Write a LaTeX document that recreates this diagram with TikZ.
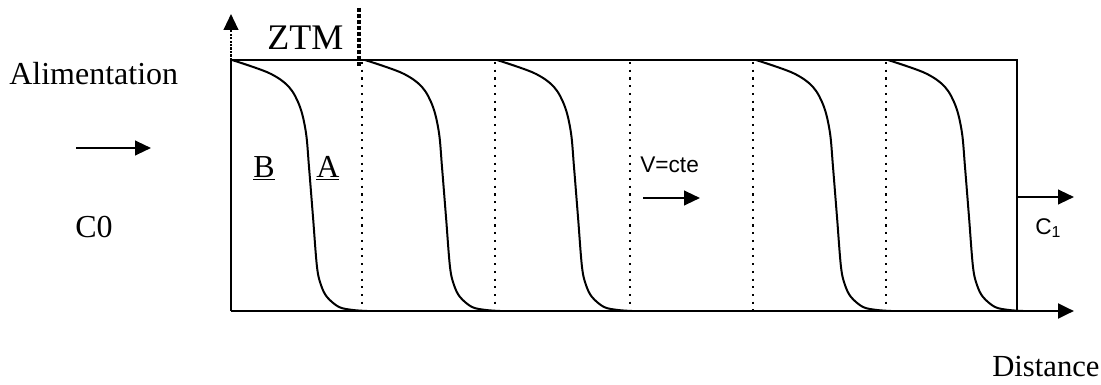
\documentclass[tikz,border=0pt]{standalone}
\usepackage{fontspec}
\setmainfont{Liberation Serif}
\newfontfamily\arial{Liberation Sans}
\usetikzlibrary{arrows.meta}
\begin{document}
\begin{tikzpicture}[x=0.75pt,y=-0.75pt,
  arr/.style={line width=1.6pt,-{Triangle[length=12pt,width=11pt]}},
  curve/.style={line width=1.5pt},
  dots/.style={line width=1.6pt,dash pattern=on 1.6pt off 4.2pt},
  lbl/.style={inner sep=0pt,anchor=base west,font=\fontsize{24}{24}\selectfont},
  sans/.style={inner sep=0pt,anchor=base west,font=\arial\fontsize{17}{17}\selectfont}]
\useasboundingbox (0,0) rectangle (1101,385);
% frame and axes
\coordinate (O) at (231,311);
\coordinate (TL) at (231,60);
\coordinate (Ytop) at (231,14);
\coordinate (TR) at (1017,60);
\coordinate (BR) at (1017,311);
\coordinate (Xend) at (1074,311);
\draw[line width=1.8pt] (O) -- (TL);
\draw[arr,line width=1.6pt,dash pattern=on 1.6pt off 1pt] (TL) -- (Ytop);
\draw[line width=1.4pt] (TL) -- (TR) -- (BR);
\draw[arr,line width=2.2pt] (O) -- (Xend);
% dotted lines
\foreach \xd/\yb in {362/305,495/305,630/305,753/311,886/305}{
  \draw[dots] (\xd,62) -- (\xd,\yb);
}
\coordinate (Z1) at (359,8);
\coordinate (Z2) at (359,66);
\draw[line width=2.6pt,dash pattern=on 3pt off 1.5pt] (Z1) -- (Z2);
% curves
\foreach \xo in {231,364,496,755,887}{
  \begin{scope}[shift={(\xo,0)}]
  \draw[curve] plot[smooth,tension=0.55] coordinates {(1,60) (38,73) (58,87) (69,107) (75,133) (78,167) (82,217) (86,267) (90,285) (96,297) (108,307) (122,310) (136,311)};
  \end{scope}
}
% arrows
\coordinate (a1) at (76,148);
\coordinate (a2) at (151,148);
\draw[arr] (a1) -- (a2);
\coordinate (v1) at (643,198);
\coordinate (v2) at (700,198);
\draw[arr] (v1) -- (v2);
\coordinate (c1) at (1017,197);
\coordinate (c2) at (1074,197);
\draw[arr] (c1) -- (c2);
% labels
\node[lbl] (alim) at (9,85) {Alimentation};
\node[lbl] (c0) at (75,238) {C0};
\node[lbl,font=\fontsize{27}{27}\selectfont] (ztm) at (267,50) {ZTM};
\node[lbl] (B) at (253,177) {\underline{B}};
\node[lbl] (A) at (316,177) {\underline{A}};
\node[sans] (v) at (640,173) {V=cte};
\node[sans] (C1) at (1035,234) {C\textsubscript{1}};
\node[lbl,font=\fontsize{23}{23}\selectfont] (dist) at (992,376) {Distance};
\end{tikzpicture}
\end{document}
